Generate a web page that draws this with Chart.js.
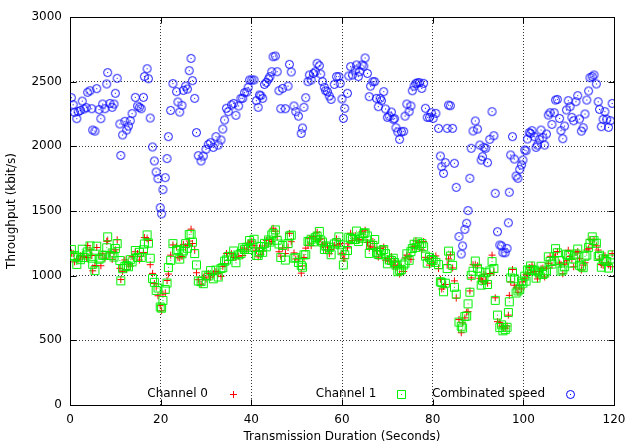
<!DOCTYPE html>
<html>
<head>
<meta charset="utf-8">
<title>Throughput</title>
<script src="https://cdn.jsdelivr.net/npm/chart.js@4"></script>
<style>
  html, body { margin: 0; padding: 0; background: #ffffff; }
  #wrap { width: 626px; height: 443px; }
</style>
</head>
<body>
<div id="wrap"><canvas id="throughput_chart"></canvas></div>
<script>
// sample times (seconds)
const times = [
    0.3, 0.7, 1.0, 1.5, 1.8, 2.3, 2.7, 3.1, 3.6, 3.9,
    4.4, 4.8, 5.0, 5.5, 5.9, 6.4, 6.8, 7.2, 7.7, 8.1,
    8.3, 8.8, 9.3, 9.7, 10.0, 10.4, 11.0, 11.2, 11.6, 12.1,
    12.5, 12.9, 13.3, 13.7, 14.4, 14.9, 15.3, 15.7, 16.2, 16.4,
    17.0, 17.3, 17.7, 18.2, 18.6, 19.0, 19.4, 19.9, 20.2, 20.5,
    21.0, 21.4, 21.7, 22.2, 22.7, 23.5, 23.8, 24.2, 24.7, 25.0,
    25.5, 25.9, 26.3, 26.7, 27.0, 27.5, 27.9, 28.3, 28.9, 29.4,
    30.0, 30.5, 31.0, 31.6, 32.2, 32.7, 33.3, 33.7, 34.1, 34.5,
    34.9, 35.6, 36.1, 36.6, 37.2, 37.7, 38.1, 38.5, 39.0, 39.3,
    39.6, 40.1, 40.6, 41.1, 41.5, 41.8, 42.1, 42.5, 42.9, 43.3,
    43.8, 44.1, 44.5, 44.8, 45.3, 45.7, 46.1, 46.5, 46.9, 47.5,
    48.1, 48.4, 48.8, 49.4, 49.8, 50.4, 51.0, 51.3, 51.6, 52.0,
    52.5, 52.8, 53.2, 53.7, 54.1, 54.5, 55.0, 55.3, 55.7, 56.1,
    56.4, 56.8, 57.2, 57.6, 58.3, 58.8, 59.3, 59.6, 60.0, 60.3,
    60.6, 61.2, 61.5, 61.9, 62.3, 62.9, 63.2, 63.6, 63.9, 64.4,
    64.8, 65.1, 65.6, 66.0, 66.3, 66.8, 67.2, 67.6, 68.0, 68.4,
    68.7, 69.2, 69.6, 70.0, 70.4, 70.9, 71.3, 71.6, 71.9, 72.3,
    72.7, 73.1, 73.6, 73.9, 74.3, 74.8, 75.2, 75.5, 75.9, 76.3,
    76.7, 77.1, 77.6, 78.0, 78.4, 78.8, 79.3, 79.7, 80.1, 80.7,
    81.3, 81.7, 82.0, 82.4, 82.8, 83.2, 83.5, 83.9, 84.4, 84.8,
    85.2, 85.8, 86.3, 86.6, 87.1, 87.5, 87.8, 88.2, 88.5, 88.9,
    89.4, 89.9, 90.4, 90.7, 91.0, 91.3, 91.7, 92.1, 92.6, 93.1,
    93.5, 93.8, 94.3, 94.8, 95.2, 95.5, 96.0, 96.4, 96.7, 96.9,
    97.2, 97.6, 98.0, 98.4, 98.8, 99.2, 99.6, 99.9, 100.3, 100.6,
    100.9, 101.3, 101.6, 101.9, 102.4, 102.8, 103.1, 103.5, 103.9, 104.3,
    104.7, 105.1, 105.5, 105.9, 106.3, 106.8, 107.1, 107.5, 108.0, 108.3,
    108.7, 109.1, 109.5, 109.9, 110.3, 110.7, 111.1, 111.6, 112.0, 112.4,
    112.8, 113.2, 113.6, 114.0, 114.4, 114.7, 115.2, 115.6, 116.1, 116.5,
    116.8, 117.2, 117.6, 118.0, 118.4, 118.8, 119.2, 119.6
];

// kbit/s
const channel0 = [
    1173, 1171, 1107, 1127, 1129, 1154, 1145, 1150, 1140, 1234,
    1200, 1156, 1038, 1079, 1218, 1157, 1077, 1169, 1136, 1266,
    1270, 1176, 1126, 1184, 1200, 1278, 1057, 970, 1034, 1122,
    1048, 1089, 1074, 1147, 1185, 1171, 1121, 1151, 1180, 1295,
    1285, 1272, 1085, 1018, 939, 916, 845, 768, 729, 858,
    864, 963, 1013, 1159, 1238, 1227, 1142, 1138, 1149, 1242,
    1218, 1232, 1268, 1360, 1249, 1201, 1023, 969, 934, 988,
    974, 1018, 989, 1016, 1033, 1020, 995, 1072, 1092, 1172,
    1119, 1170, 1141, 1140, 1151, 1201, 1156, 1213, 1200, 1253,
    1242, 1267, 1232, 1197, 1146, 1214, 1166, 1191, 1230, 1273,
    1246, 1280, 1264, 1367, 1344, 1304, 1185, 1151, 1214, 1171,
    1218, 1327, 1263, 1176, 1129, 1132, 1020, 1076, 1141, 1213,
    1235, 1286, 1232, 1302, 1284, 1336, 1282, 1285, 1240, 1253,
    1200, 1222, 1170, 1202, 1235, 1285, 1240, 1249, 1173, 1133,
    1132, 1215, 1247, 1328, 1271, 1310, 1285, 1275, 1279, 1340,
    1296, 1352, 1257, 1212, 1228, 1265, 1220, 1191, 1144, 1211,
    1162, 1222, 1120, 1132, 1112, 1148, 1075, 1112, 1062, 1081,
    1012, 1067, 1033, 1137, 1159, 1149, 1126, 1220, 1223, 1269,
    1231, 1256, 1199, 1264, 1142, 1127, 1082, 1135, 1098, 1153,
    1055, 973, 897, 916, 932, 1085, 1130, 1162, 1060, 960,
    827, 661, 559, 635, 674, 718, 722, 882, 983, 1085,
    1083, 1077, 980, 967, 955, 1011, 963, 942, 1017, 1159,
    1026, 829, 645, 639, 610, 604, 594, 611, 695, 848,
    952, 1048, 926, 906, 872, 926, 898, 952, 976, 1008,
    1014, 1063, 1025, 1081, 1033, 1011, 975, 1032, 1053, 1059,
    990, 1058, 1096, 1150, 1080, 1145, 1149, 1187, 1098, 1086,
    1015, 1089, 1116, 1197, 1149, 1127, 1069, 1178, 1186, 1131,
    1044, 1082, 1100, 1199, 1209, 1281, 1240, 1281, 1231, 1198,
    1128, 1086, 1080, 1154, 1100, 1089, 1069, 1171
];

const channel1 = [
    1203, 1151, 1157, 1087, 1139, 1124, 1205, 1140, 1160, 1184,
    1230, 1136, 1088, 1039, 1228, 1127, 1137, 1159, 1156, 1216,
    1300, 1156, 1176, 1144, 1210, 1248, 1117, 960, 1054, 1072,
    1078, 1069, 1124, 1107, 1195, 1141, 1181, 1141, 1200, 1245,
    1315, 1252, 1135, 978, 949, 886, 905, 758, 749, 808,
    894, 943, 1063, 1119, 1248, 1197, 1202, 1128, 1169, 1192,
    1248, 1212, 1318, 1320, 1259, 1171, 1083, 959, 954, 938,
    1004, 998, 1039, 976, 1043, 990, 1055, 1062, 1112, 1122,
    1149, 1150, 1191, 1100, 1161, 1171, 1216, 1203, 1220, 1203,
    1272, 1247, 1282, 1157, 1156, 1184, 1226, 1181, 1250, 1223,
    1276, 1260, 1314, 1327, 1354, 1274, 1245, 1141, 1234, 1121,
    1248, 1307, 1313, 1136, 1139, 1102, 1080, 1066, 1161, 1163,
    1265, 1266, 1282, 1262, 1294, 1306, 1342, 1275, 1260, 1203,
    1230, 1202, 1220, 1162, 1245, 1255, 1300, 1239, 1193, 1083,
    1162, 1195, 1297, 1288, 1281, 1280, 1345, 1265, 1299, 1290,
    1326, 1332, 1307, 1172, 1238, 1235, 1280, 1181, 1164, 1161,
    1192, 1202, 1170, 1092, 1122, 1118, 1135, 1102, 1082, 1031,
    1042, 1047, 1083, 1097, 1169, 1119, 1186, 1210, 1243, 1219,
    1261, 1236, 1249, 1224, 1152, 1097, 1142, 1125, 1118, 1103,
    1085, 953, 947, 876, 942, 1055, 1190, 1152, 1080, 910,
    857, 641, 609, 595, 684, 688, 782, 872, 1003, 1035,
    1113, 1057, 1030, 927, 965, 981, 1023, 932, 1037, 1109,
    1056, 809, 695, 599, 620, 574, 583, 601, 715, 798,
    982, 1028, 976, 866, 882, 896, 958, 942, 996, 958,
    1044, 1043, 1075, 1041, 1043, 981, 1035, 1022, 1073, 1009,
    1020, 1038, 1146, 1110, 1090, 1115, 1209, 1177, 1118, 1036,
    1045, 1069, 1166, 1157, 1159, 1097, 1129, 1168, 1206, 1081,
    1074, 1062, 1150, 1159, 1219, 1251, 1300, 1271, 1251, 1148,
    1158, 1066, 1130, 1114, 1110, 1059, 1129, 1161
];

const combinedSpeed = [
    2376, 2322, 2263, 2214, 2268, 2278, 2350, 2289, 2299, 2418,
    2430, 2291, 2126, 2118, 2446, 2284, 2214, 2327, 2291, 2482,
    2570, 2332, 2302, 2327, 2410, 2526, 2173, 1930, 2088, 2193,
    2126, 2157, 2198, 2253, 2379, 2312, 2302, 2291, 2379, 2539,
    2600, 2523, 2219, 1995, 1887, 1802, 1750, 1526, 1478, 1665,
    1758, 1905, 2075, 2278, 2485, 2423, 2343, 2265, 2317, 2433,
    2466, 2443, 2585, 2680, 2508, 2371, 2106, 1928, 1887, 1925,
    1977, 2015, 2028, 1992, 2075, 2010, 2049, 2134, 2204, 2294,
    2268, 2320, 2332, 2240, 2312, 2371, 2371, 2415, 2420, 2456,
    2513, 2513, 2513, 2353, 2302, 2397, 2392, 2371, 2479, 2495,
    2521, 2539, 2577, 2693, 2698, 2577, 2430, 2291, 2448, 2291,
    2466, 2634, 2575, 2312, 2268, 2234, 2100, 2142, 2302, 2376,
    2500, 2552, 2513, 2564, 2577, 2642, 2624, 2559, 2500, 2456,
    2430, 2423, 2389, 2363, 2479, 2539, 2539, 2487, 2366, 2216,
    2294, 2410, 2544, 2616, 2552, 2590, 2629, 2539, 2577, 2629,
    2621, 2683, 2564, 2384, 2466, 2500, 2500, 2371, 2307, 2371,
    2353, 2423, 2289, 2224, 2234, 2265, 2209, 2214, 2144, 2111,
    2054, 2113, 2116, 2234, 2327, 2268, 2312, 2430, 2466, 2487,
    2492, 2492, 2448, 2487, 2294, 2224, 2224, 2260, 2216, 2255,
    2139, 1925, 1843, 1791, 1874, 2139, 2319, 2314, 2139, 1869,
    1683, 1302, 1168, 1230, 1358, 1405, 1503, 1753, 1985, 2119,
    2196, 2134, 2010, 1894, 1920, 1992, 1985, 1874, 2054, 2268,
    2082, 1637, 1340, 1237, 1230, 1178, 1177, 1211, 1409, 1645,
    1933, 2075, 1902, 1771, 1753, 1822, 1856, 1894, 1972, 1966,
    2057, 2106, 2100, 2121, 2075, 1992, 2010, 2054, 2126, 2067,
    2010, 2095, 2242, 2260, 2170, 2260, 2358, 2363, 2216, 2121,
    2059, 2157, 2281, 2353, 2307, 2224, 2198, 2345, 2392, 2211,
    2118, 2144, 2250, 2358, 2428, 2531, 2539, 2552, 2482, 2345,
    2286, 2152, 2209, 2268, 2209, 2147, 2198, 2332
];

const FONT = '"DejaVu Sans", sans-serif';

// little gnuplot style markers, drawn once
function makeMark(kind, color) {
    const c = document.createElement('canvas');
    c.width = 11;
    c.height = 11;
    const g = c.getContext('2d');
    g.strokeStyle = color;
    g.fillStyle = color;
    g.lineWidth = 1;
    g.beginPath();
    if (kind === 'square') {
        g.rect(1.5, 1.5, 8, 8);
    } else if (kind === 'circle') {
        g.arc(5.5, 5.5, 4, 0, Math.PI * 2);
    } else {
        g.moveTo(5.5, 2); g.lineTo(5.5, 9);
        g.moveTo(2, 5.5); g.lineTo(9, 5.5);
    }
    g.stroke();
    if (kind !== 'plus') g.fillRect(5, 5, 1, 1);
    return c;
}

const plusMark = makeMark('plus', '#ff0000');
const squareMark = makeMark('square', '#00f000');
const circleMark = makeMark('circle', '#0000ff');

function toPoints(values) {
    return values.map((v, i) => ({x: times[i], y: v}));
}

// border box + inward ticks on all four sides
const frame = {
    id: 'frame',
    beforeDatasetsDraw(chart) {
        const {ctx, chartArea: a, scales: {x, y}} = chart;
        const L = Math.round(a.left) + 0.5, R = Math.round(a.right) + 0.5;
        const T = Math.round(a.top) + 0.5, B = Math.round(a.bottom) + 0.5;
        ctx.save();
        ctx.strokeStyle = '#000';
        ctx.lineWidth = 1;
        ctx.beginPath();
        x.ticks.forEach(t => {
            const px = Math.round(x.getPixelForValue(t.value)) + 0.5;
            ctx.moveTo(px, B); ctx.lineTo(px, B - 6);
            ctx.moveTo(px, T); ctx.lineTo(px, T + 6);
        });
        y.ticks.forEach(t => {
            const py = Math.round(y.getPixelForValue(t.value)) + 0.5;
            ctx.moveTo(L, py); ctx.lineTo(L + 6, py);
            ctx.moveTo(R, py); ctx.lineTo(R - 6, py);
        });
        ctx.stroke();
        ctx.strokeRect(L, T, R - L, B - T);
        ctx.restore();
    }
};

// key inside the plot, text first then the marker
const key = {
    id: 'key',
    afterDatasetsDraw(chart) {
        const {ctx, chartArea: a} = chart;
        const marks = [plusMark, squareMark, circleMark];
        ctx.save();
        ctx.font = '12px ' + FONT;
        ctx.fillStyle = '#000';
        ctx.textAlign = 'right';
        ctx.textBaseline = 'middle';
        const yKey = a.bottom - 11;
        chart.data.datasets.forEach((ds, i) => {
            const textRight = a.left + 138 + i * 168.5;
            ctx.fillText(ds.label, textRight, yKey);
            const m = marks[i];
            ctx.drawImage(m, Math.round(textRight + 25 - m.width / 2), Math.round(yKey - m.height / 2));
        });
        ctx.restore();
    }
};

const config = {
    type: 'scatter',
    data: {
        datasets: [{
            label: 'Channel 0',
            data: toPoints(channel0),
            pointStyle: plusMark,
            pointRadius: 4,
            borderColor: '#ff0000',
            backgroundColor: '#ff0000',
            order: 3
        }, {
            label: 'Channel 1',
            data: toPoints(channel1),
            pointStyle: squareMark,
            pointRadius: 4,
            borderColor: '#00f000',
            backgroundColor: '#00f000',
            order: 2
        }, {
            label: 'Combinated speed',
            data: toPoints(combinedSpeed),
            pointStyle: circleMark,
            pointRadius: 4,
            borderColor: '#0000ff',
            backgroundColor: '#0000ff',
            order: 1
        }]
    },
    options: {
        responsive: true,
        maintainAspectRatio: false,
        animation: false,
        layout: {
            padding: {top: 17, right: 12, bottom: 0, left: 0}
        },
        plugins: {
            legend: {display: false},
            tooltip: {enabled: false}
        },
        scales: {
            x: {
                type: 'linear',
                min: 0,
                max: 120,
                ticks: {
                    stepSize: 20,
                    color: '#000',
                    padding: 8,
                    maxRotation: 0,
                    font: {family: FONT, size: 12},
                    callback: v => String(v)
                },
                grid: {color: '#333', drawTicks: false},
                border: {display: false, dash: [1, 2]},
                title: {
                    display: true,
                    text: 'Transmission Duration (Seconds)',
                    color: '#000',
                    font: {family: FONT, size: 12},
                    padding: {top: 0, bottom: -1}
                },
                afterFit: function (scale) {
                    scale.height = 38;
                    scale.paddingLeft = 0;
                    scale.paddingRight = 0;
                }
            },
            y: {
                min: 0,
                max: 3000,
                ticks: {
                    stepSize: 500,
                    color: '#000',
                    padding: 8,
                    font: {family: FONT, size: 12},
                    callback: v => String(v)
                },
                grid: {color: '#333', drawTicks: false},
                border: {display: false, dash: [1, 2]},
                title: {
                    display: true,
                    text: 'Throughput (kbit/s)',
                    color: '#000',
                    font: {family: FONT, size: 12},
                    padding: {top: 5, bottom: 0}
                },
                afterFit: function (scale) { scale.width = 70; }
            }
        }
    },
    plugins: [frame, key]
};

window.addEventListener('load', function () {
    new Chart(document.getElementById('throughput_chart'), config);
});
</script>
</body>
</html>
